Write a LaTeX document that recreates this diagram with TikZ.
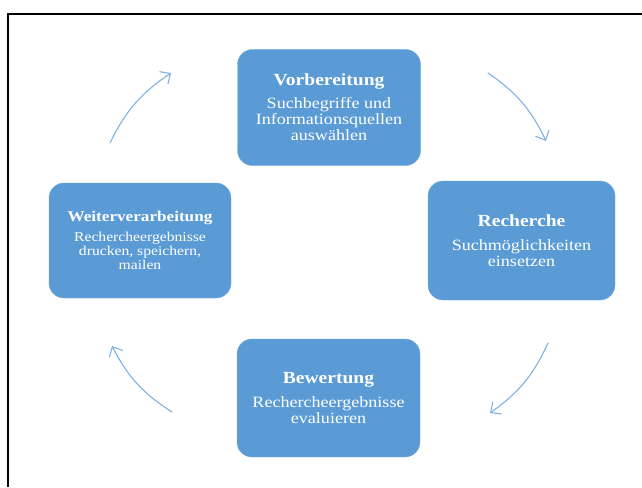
\documentclass[tikz,border=0pt]{standalone}
\usepackage{fontspec}
\setmainfont{Liberation Serif}[FakeStretch=1.15]
\usetikzlibrary{arrows.meta}
\definecolor{kastenblau}{HTML}{5B9BD5}
\definecolor{pfeilblau}{HTML}{7FB1E1}
\newcommand{\titel}[1]{{\fontsize{17}{16}\selectfont\bfseries #1}}
\newcommand{\kleintitel}[1]{{\fontsize{14.9}{14}\selectfont\bfseries #1}}
\tikzset{
	kasten/.style={fill=kastenblau, draw=kastenblau!85!white, rounded corners=15pt, text=white,
		align=center, inner sep=0pt, minimum width=183pt, minimum height=116pt,
		font=\fontsize{15.7}{16}\selectfont},
	pfeil/.style={draw=pfeilblau, line width=1.1pt, line cap=round,
		-{Straight Barb[length=8pt,width=15pt]}}
}
\begin{document}
\begin{tikzpicture}[x=1pt, y=-1pt]
	\useasboundingbox (0,0) rectangle (642,487);
	% Rahmen
	\draw[line width=2pt] (8,487) -- (8,14.5) -- (642,14.5);
	% Kaesten
	\node[kasten] (vor) at (329,107.5) {\titel{Vorbereitung}\\[7pt]
		Suchbegriffe und\\ Informationsquellen\\ auswählen};
	\node[kasten, minimum width=187pt, minimum height=119pt] (rech) at (521.5,240.5)
		{\titel{Recherche}\\[8pt] Suchmöglichkeiten\\ einsetzen};
	\node[kasten, minimum height=118pt] (bew) at (328.5,398)
		{\titel{Bewertung}\\[8pt] Rechercheergebnisse\\ evaluieren};
	\node[kasten, minimum width=182pt, minimum height=115pt, font=\fontsize{13.6}{14}\selectfont]
		(weiter) at (140,240.5) {\kleintitel{Weiterverarbeitung}\\[6pt]
		Rechercheergebnisse\\ drucken, speichern,\\ mailen};
	% Pfeile
	\path (110,143) coordinate (p1a) (171,73) coordinate (p1b)
	(488,73) coordinate (p2a) (546,141) coordinate (p2b)
	(548,343) coordinate (p3a) (490,413) coordinate (p3b)
	(172,412) coordinate (p4a) (112,346) coordinate (p4b);
	\foreach \von/\nach in {p1a/p1b,p2a/p2b,p3a/p3b,p4a/p4b}
	\draw[pfeil] (\von) to[bend left=15] (\nach);
\end{tikzpicture}
\end{document}
